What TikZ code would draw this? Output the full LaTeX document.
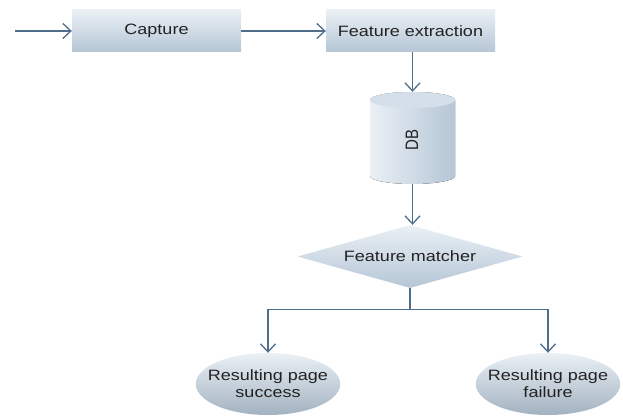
\documentclass[tikz,border=0pt]{standalone}
\usepackage{fontspec}
\setmainfont{Liberation Sans}
\usetikzlibrary{shapes.geometric,arrows.meta}
\definecolor{lineblue}{HTML}{4F6E8A}
\definecolor{boxtop}{HTML}{EAF0F5}
\definecolor{boxbot}{HTML}{B5C6D6}
\definecolor{txt}{HTML}{222222}
\newcommand{\wtxt}[1]{\scalebox{1.2}[1]{#1}}
\tikzset{
  arr/.style={draw=lineblue, line width=1.3pt, -{Straight Barb[length=8pt,width=15pt]}},
  conn/.style={draw=lineblue, line width=1.3pt},
  procbox/.style={rectangle, minimum width=169pt, minimum height=42pt, inner sep=0pt,
    top color=boxtop, bottom color=boxbot, draw=none, text=txt,
    font=\fontsize{15}{17}\selectfont},
  decbox/.style={diamond, minimum width=225pt, minimum height=63pt, inner sep=0pt,
    aspect=3.57, top color=boxtop, bottom color=boxbot, draw=none, text=txt,
    font=\fontsize{15}{17}\selectfont},
  endbox/.style={ellipse, minimum width=143pt, minimum height=62pt, inner xsep=-9pt, inner ysep=0pt,
    top color=boxtop, bottom color=boxbot!90!black, draw=none, text=txt, align=center,
    font=\fontsize{15}{17}\selectfont},
}
\begin{document}
\begin{tikzpicture}[x=1pt,y=-1pt]
\useasboundingbox (0,0) rectangle (623,417);
\node[procbox] (cap) at (156.5,31) {\wtxt{Capture}};
\node[procbox] (fe) at (410.5,31) {\wtxt{Feature extraction}};
\coordinate (in) at (15,31);
% DB cylinder
\fill[left color=boxtop, right color=boxbot]
  (370,100) arc[start angle=180,end angle=0,x radius=42.5,y radius=-8]
  -- (455,176) arc[start angle=0,end angle=-180,x radius=42.5,y radius=-8] -- cycle;
\fill[boxtop!60!boxbot] (412.5,100) ellipse[x radius=42.5,y radius=8];
\node[inner sep=0pt, minimum width=85pt, minimum height=92pt] (db) at (412.5,138) {};
\node[rotate=90, text=txt, font=\fontsize{15}{17}\selectfont] (dbl) at (412,140) {\scalebox{1}[1.2]{DB}};
\node[decbox] (fm) at (410,256.5) {\wtxt{Feature matcher}};
\node[endbox] (ok) at (268,384) {\wtxt{Resulting page}\\\wtxt{success}};
\node[endbox] (ko) at (548,384) {\wtxt{Resulting page}\\\wtxt{failure}};
\draw[arr] (in) -- (cap);
\draw[arr] (cap) -- (fe);
\draw[arr] (fe.south -| db.north) -- (db.north);
\draw[arr] (db.south) -- (db.south |- fm.north);
\draw[conn] (fm.south) -- ++(0,21) coordinate (split);
\draw[arr] (split) -| (ok.north);
\draw[arr] (split) -| (ko.north);
\end{tikzpicture}
\end{document}
